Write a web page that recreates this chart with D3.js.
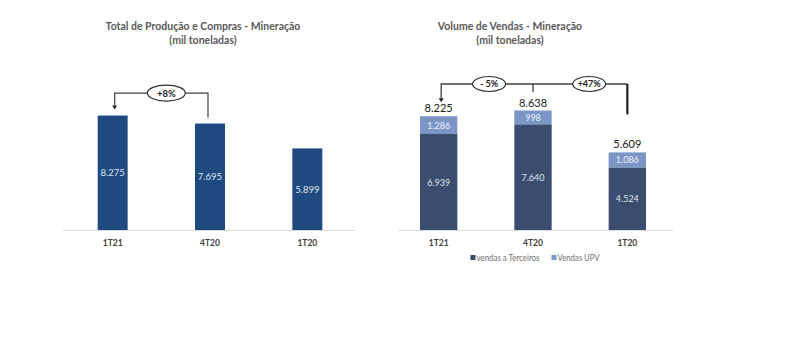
<!DOCTYPE html>
<html><head><meta charset="utf-8">
<script src="https://cdn.jsdelivr.net/npm/d3@7"></script>
<style>body{margin:0;background:#fff}svg{display:block}text{font-family:Lato,"Open Sans",sans-serif}</style>
</head><body><svg id="c" width="800" height="357"></svg>
<script>
const categories = ["1T21","4T20","1T20"];
const producao = [8275, 7695, 5899];
const vendasTerceiros = [6939, 7640, 4524];
const vendasUPV = [1286, 998, 1086];
const vendasTotal = [8225, 8638, 5609];
const producaoLabels = ["8.275","7.695","5.899"];
const terceirosLabels = ["6.939","7.640","4.524"];
const upvLabels = ["1.286","998","1.086"];
const totalLabels = ["8.225","8.638","5.609"];
const leftVar = ["+8%"];
const rightVar = ["- 5%","+47%"];
const seriesNames = ["vendas a Terceiros","Vendas UPV"];

const svg = d3.select("#c");
const y = d3.scaleLinear().domain([0, 9000]).range([230, 105.5]);
const fmtColor = {left:"#1f4a80", dark:"#3a4d6e", light:"#7b96c6"};

// ---------- Left chart ----------
const xL = d3.scaleBand().domain(categories).range([64, 356]).paddingInner(0.692).paddingOuter(0.346);
const gL = svg.append("g");
gL.append("text").attr("x",203).attr("y",30).attr("text-anchor","middle").attr("font-size",10.5).attr("font-weight","bold").attr("fill","#595959").text("Total de Produção e Compras - Mineração");
gL.append("text").attr("x",203).attr("y",44).attr("text-anchor","middle").attr("font-size",10.5).attr("font-weight","bold").attr("fill","#595959").text("(mil toneladas)");
gL.append("line").attr("x1",63).attr("x2",355).attr("y1",230.5).attr("y2",230.5).attr("stroke","#d9d9d9").attr("stroke-width",1);
gL.selectAll("rect.b").data(producao).join("rect")
  .attr("x",(d,i)=>xL(categories[i])).attr("width",xL.bandwidth())
  .attr("y",d=>y(d)).attr("height",d=>y(0)-y(d)).attr("fill",fmtColor.left);
gL.selectAll("text.v").data(producao).join("text")
  .attr("x",(d,i)=>xL(categories[i])+xL.bandwidth()/2).attr("y",d=>(y(d)+y(0))/2+3.5)
  .attr("text-anchor","middle").attr("font-size",9.5).attr("fill","#dfe6f2").text((d,i)=>producaoLabels[i]);
gL.selectAll("text.c").data(categories).join("text")
  .attr("x",d=>xL(d)+xL.bandwidth()/2).attr("y",246).attr("text-anchor","middle")
  .attr("font-size",8.5).attr("font-weight","bold").attr("fill","#404040").text(d=>d);
// annotation
{
  const x1 = xL(categories[0])+xL.bandwidth()/2+2, x2 = xL(categories[1])+xL.bandwidth()/2-2;
  const top = y(producao[0]) - 22.5;
  gL.append("path").attr("d",`M${x2},${y(producao[1])-6}V${top}H${x1}V${y(producao[0])-10}`)
    .attr("fill","none").attr("stroke","#404040").attr("stroke-width",1.2);
  gL.append("path").attr("d",`M${x1-2.5},${y(producao[0])-10}L${x1+2.5},${y(producao[0])-10}L${x1},${y(producao[0])-6}Z`).attr("fill","#202020");
  const cx=(x1+x2)/2+5;
  gL.append("ellipse").attr("cx",cx).attr("cy",top).attr("rx",19).attr("ry",8).attr("fill","#fff").attr("stroke","#303030").attr("stroke-width",1.2);
  gL.append("text").attr("x",cx).attr("y",top+3.5).attr("text-anchor","middle").attr("font-size",9.5).attr("font-weight","bold").attr("fill","#202020").text(leftVar[0]);
}

// ---------- Right chart ----------
const xR = d3.scaleBand().domain(categories).range([391.5, 674.5]).paddingInner(0.604).paddingOuter(0.302);
const gR = svg.append("g");
gR.append("text").attr("x",510).attr("y",30).attr("text-anchor","middle").attr("font-size",10.5).attr("font-weight","bold").attr("fill","#595959").text("Volume de Vendas - Mineração");
gR.append("text").attr("x",510).attr("y",44).attr("text-anchor","middle").attr("font-size",10.5).attr("font-weight","bold").attr("fill","#595959").text("(mil toneladas)");
gR.append("line").attr("x1",398).attr("x2",673).attr("y1",230.5).attr("y2",230.5).attr("stroke","#d9d9d9").attr("stroke-width",1);
const cxR = c => xR(c)+xR.bandwidth()/2;
gR.selectAll("rect.d").data(vendasTerceiros).join("rect")
  .attr("x",(d,i)=>xR(categories[i])).attr("width",xR.bandwidth())
  .attr("y",d=>y(d)).attr("height",d=>y(0)-y(d)).attr("fill",fmtColor.dark);
gR.selectAll("rect.l").data(vendasUPV).join("rect")
  .attr("x",(d,i)=>xR(categories[i])).attr("width",xR.bandwidth())
  .attr("y",(d,i)=>y(d+vendasTerceiros[i])).attr("height",(d,i)=>y(vendasTerceiros[i])-y(d+vendasTerceiros[i])).attr("fill",fmtColor.light);
gR.selectAll("text.dv").data(vendasTerceiros).join("text")
  .attr("x",(d,i)=>cxR(categories[i])).attr("y",d=>(y(d)+y(0))/2+3.5)
  .attr("text-anchor","middle").attr("font-size",9).attr("fill","#dfe4ee").text((d,i)=>terceirosLabels[i]);
gR.selectAll("text.lv").data(vendasUPV).join("text")
  .attr("x",(d,i)=>cxR(categories[i])).attr("y",(d,i)=>(y(vendasTerceiros[i])+y(d+vendasTerceiros[i]))/2+3.5)
  .attr("text-anchor","middle").attr("font-size",9).attr("fill","#eef2fa").text((d,i)=>upvLabels[i]);
gR.selectAll("text.tv").data(vendasTotal).join("text")
  .attr("x",(d,i)=>cxR(categories[i])).attr("y",d=>y(d)-4)
  .attr("text-anchor","middle").attr("font-size",11).attr("fill","#202020").text((d,i)=>totalLabels[i]);
gR.selectAll("text.c").data(categories).join("text")
  .attr("x",d=>cxR(d)).attr("y",246).attr("text-anchor","middle")
  .attr("font-size",8.5).attr("font-weight","bold").attr("fill","#404040").text(d=>d);
// legend
const leg = gR.append("g");
[[470.5,fmtColor.dark,seriesNames[0],63],[551.5,fmtColor.light,seriesNames[1],42]].forEach(([lx,col,name,w])=>{
  leg.append("rect").attr("x",lx).attr("y",255).attr("width",5).attr("height",5).attr("fill",col);
  leg.append("text").attr("x",lx+6).attr("y",261).attr("font-size",8.5).attr("fill","#6f6f6f")
    .attr("textLength",w).attr("lengthAdjust","spacingAndGlyphs").text(name);
});
// annotation
{
  const top = y(vendasTotal[1]) - 26.5;
  const xa = cxR(categories[0])+2.5, xm = cxR(categories[1]), xe = cxR(categories[2]);
  gR.append("path").attr("d",`M${xa},${y(vendasTotal[0])-18}V${top}H${xe}`).attr("fill","none").attr("stroke","#404040").attr("stroke-width",1.3);
  gR.append("path").attr("d",`M${xe},${top}V${y(vendasTotal[2])-38}`).attr("fill","none").attr("stroke","#202020").attr("stroke-width",2.2);
  gR.append("path").attr("d",`M${xm},${top}V${top+8}`).attr("fill","none").attr("stroke","#404040").attr("stroke-width",1.3);
  gR.append("path").attr("d",`M${xa-2.5},${y(vendasTotal[0])-18}L${xa+2.5},${y(vendasTotal[0])-18}L${xa},${y(vendasTotal[0])-14}Z`).attr("fill","#202020");
  const ex = [ (xa+xm)/2+2, (xm+xe)/2+9 ];
  ex.forEach((cx,i)=>{
    gR.append("ellipse").attr("cx",cx).attr("cy",top).attr("rx",16.5).attr("ry",7.5).attr("fill","#fff").attr("stroke","#303030").attr("stroke-width",1.2);
    gR.append("text").attr("x",cx).attr("y",top+3.3).attr("text-anchor","middle").attr("font-size",9).attr("font-weight","bold").attr("fill","#202020").text(rightVar[i]);
  });
}
</script></body></html>
